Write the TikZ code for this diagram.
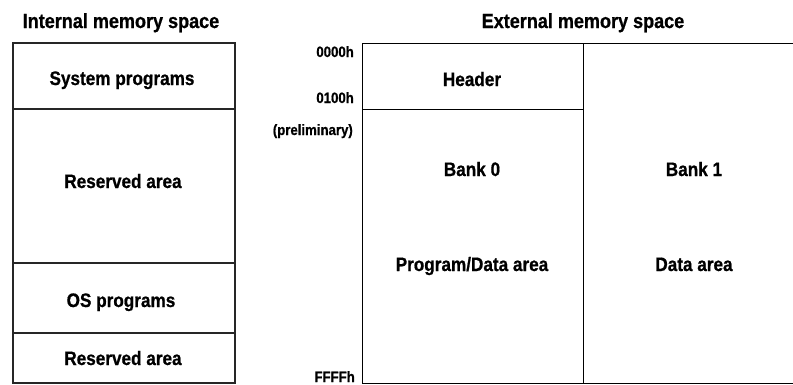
\documentclass[tikz,border=0pt]{standalone}
\usepackage{fontspec}
\setmainfont{Liberation Sans}[FakeStretch=0.88,BoldFeatures={FakeBold=0.8}]
\begin{document}
\begin{tikzpicture}[x=1pt,y=-1pt,
  region/.style={draw=black!85,line width=1.1pt,inner sep=0pt,outer sep=0pt,anchor=north west},
  bank/.style={draw=black,line width=0.9pt,inner sep=0pt,outer sep=0pt,anchor=north west},
  title/.style={anchor=base,inner sep=0pt,font=\fontsize{20.5}{22}\selectfont\bfseries},
  lbl/.style={anchor=base,inner sep=0pt,font=\fontsize{19.5}{22}\selectfont\bfseries},
  addr/.style={anchor=base east,inner sep=0pt,font=\fontsize{15}{17}\selectfont\bfseries}]
\useasboundingbox (0,0) rectangle (793,384);
\clip (0,0) rectangle (793,384);
% internal memory
\node[region,minimum width=222pt,minimum height=66pt] (sys) at (13,43) {};
\node[region,minimum width=222pt,minimum height=154pt] (res1) at (13,109) {};
\node[region,minimum width=222pt,minimum height=70pt] (os) at (13,263) {};
\node[region,minimum width=222pt,minimum height=50pt] (res2) at (13,333) {};
% external memory
\node[bank,minimum width=221pt,minimum height=66pt] (hdr) at (362,43) {};
\node[bank,minimum width=221pt,minimum height=274pt] (b0) at (362,109) {};
\node[bank,minimum width=222pt,minimum height=340pt] (b1) at (583,43) {};
% titles
\node[title] (tint) at (121,28) {Internal memory space};
\node[title] (text) at (583,28) {External memory space};
% labels
\node[lbl] (lsys) at (122,85) {System programs};
\node[lbl] (lres1) at (123,188) {Reserved area};
\node[lbl] (los) at (121,307) {OS programs};
\node[lbl] (lres2) at (123,365) {Reserved area};
\node[lbl] (lhdr) at (472,86) {Header};
\node[lbl] (lb0) at (472,176) {Bank 0};
\node[lbl] (lpd) at (472,271) {Program/Data area};
\node[lbl] (lb1) at (694,176) {Bank 1};
\node[lbl] (lda) at (694,271) {Data area};
% addresses
\node[addr] (a0) at (354,57) {0000h};
\node[addr] (a1) at (354,103) {0100h};
\node[addr] (ap) at (353,135) {(preliminary)};
\node[addr] (af) at (355,382) {FFFFh};
\end{tikzpicture}
\end{document}
